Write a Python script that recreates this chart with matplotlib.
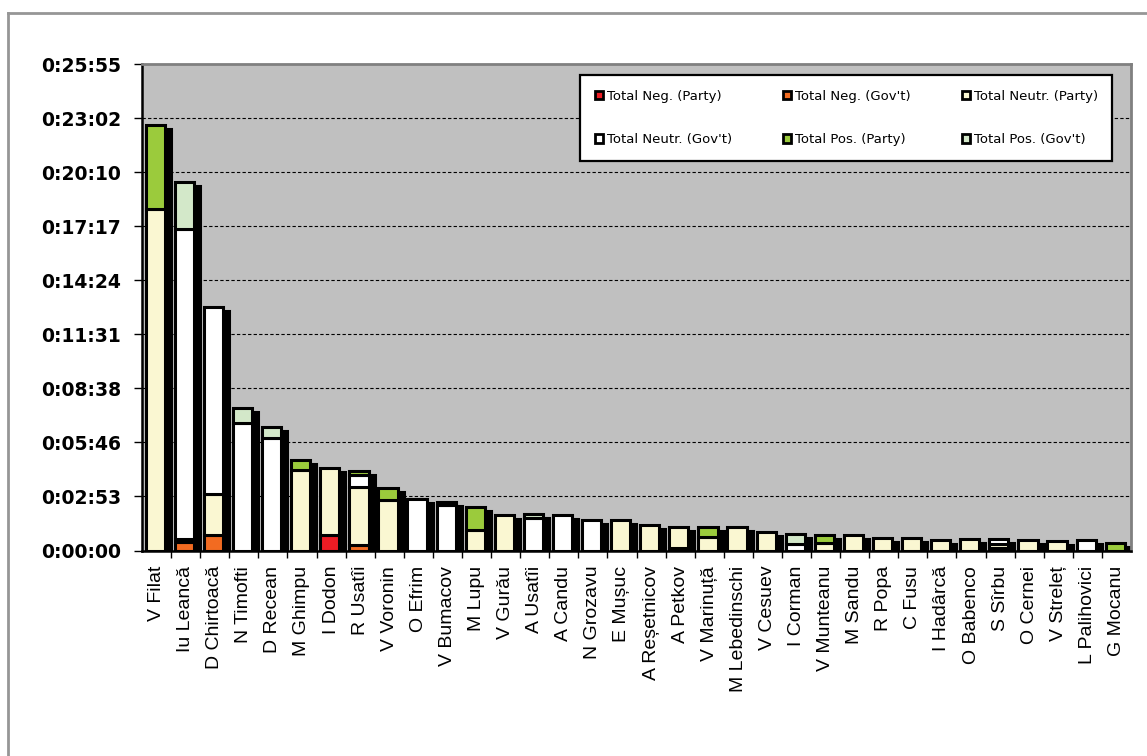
import numpy as np
import matplotlib
matplotlib.use('Agg')
from matplotlib import pyplot as plt
from matplotlib.patches import Patch
from matplotlib.lines import Line2D

# names along the x axis
names = ['V Filat', 'Iu Leancă', 'D Chirtoacă', 'N Timofti', 'D Recean', 'M Ghimpu',
         'I Dodon', 'R Usatîi', 'V Voronin', 'O Efrim', 'V Bumacov', 'M Lupu',
         'V Gurău', 'A Usatîi', 'A Candu', 'N Grozavu', 'E Mușuc', 'A Reșetnicov',
         'A Petkov', 'V Marinuță', 'M Lebedinschi', 'V Cesuev', 'I Corman',
         'V Munteanu', 'M Sandu', 'R Popa', 'C Fusu', 'I Hadârcă', 'O Babenco',
         'S Sîrbu', 'O Cernei', 'V Streleț', 'L Palihovici', 'G Mocanu']

# seconds of coverage per category
neg_party  = [0, 0, 0, 0, 0, 0, 50, 0, 0, 0, 0, 0, 0, 0, 0, 0, 0, 0,
              8, 0, 0, 0, 0, 0, 0, 0, 0, 0, 0, 0, 0, 0, 0, 0]
neg_govt   = [0, 28, 50, 0, 0, 0, 0, 16, 0, 0, 0, 0, 0, 0, 0, 0, 0, 0,
              0, 0, 0, 0, 0, 0, 0, 0, 0, 0, 0, 8, 0, 0, 0, 0]
neutr_party = [1091, 10, 132, 0, 0, 258, 215, 188, 161, 0, 0, 66, 115, 0, 0, 0, 96, 80,
               68, 44, 76, 60, 0, 23, 48, 41, 41, 32, 38, 13, 33, 30, 0, 0]
neutr_govt = [0, 989, 595, 408, 359, 0, 0, 38, 0, 165, 144, 0, 0, 105, 113, 99, 0, 0,
              0, 0, 0, 0, 21, 0, 0, 0, 0, 0, 0, 16, 0, 0, 33, 0]
pos_party  = [269, 0, 0, 0, 0, 31, 0, 11, 38, 0, 0, 73, 0, 0, 0, 0, 0, 0,
              0, 32, 0, 0, 0, 28, 0, 0, 0, 0, 0, 0, 0, 0, 0, 24]
pos_govt   = [0, 152, 0, 49, 37, 0, 0, 0, 0, 0, 12, 0, 0, 11, 0, 0, 0, 0,
              0, 0, 0, 0, 33, 0, 0, 0, 0, 0, 0, 0, 0, 0, 0, 0]

series = [neg_party, neg_govt, neutr_party, neutr_govt, pos_party, pos_govt]
labels = ['Total Neg. (Party)', "Total Neg. (Gov't)", 'Total Neutr. (Party)',
          "Total Neutr. (Gov't)", 'Total Pos. (Party)', "Total Pos. (Gov't)"]
colors = ['#ED1C24', '#F26B21', '#FAF7D2', '#FFFFFF', '#9BCB3C', '#D3E8C9']

ymax = 1555
yticklabels = ['0:00:00', '0:02:53', '0:05:46', '0:08:38', '0:11:31',
               '0:14:24', '0:17:17', '0:20:10', '0:23:02', '0:25:55']

fig = plt.figure(figsize=(11.47, 7.56), dpi=100)
ax = fig.add_axes([142/1147, 205.5/756, 989/1147, 486.5/756])
ax.set_facecolor('#C0C0C0')

x = np.arange(len(names))
w = 0.66
xc = x - 0.043
lw = 2.2

data = np.array(series, dtype=float)
totals = data.sum(axis=0)

# drop shadows
ax.bar(xc + 0.206, np.maximum(totals - 12.8, 0), w, color='black',
       edgecolor='black', linewidth=lw, zorder=2)

bottom = np.zeros(len(names))
for vals, col in zip(data, colors):
    m = vals > 0
    ax.bar(xc[m], vals[m], w, bottom=bottom[m], color=col,
           edgecolor='black', linewidth=lw, zorder=3)
    bottom += vals

ax.set_xlim(-0.5, len(names) - 0.5)
ax.set_ylim(0, ymax)

yt = np.arange(10) * ymax / 9
ax.set_yticks(yt)
ax.set_yticklabels(yticklabels, fontsize=13.5, fontweight='bold', family='DejaVu Sans')
ax.tick_params(axis='y', direction='out', length=6, width=1, pad=9)
for v in yt[1:-1]:
    ax.axhline(v, color='black', lw=0.8, ls=(0, (3, 2)), zorder=1)

ax.set_xticks(x)
ax.set_xticklabels(names, rotation=90, fontsize=14, family='Liberation Sans')
ax.set_xticks(x[:-1] + 0.5, minor=True)
ax.tick_params(axis='x', which='major', length=0, pad=11)
ax.tick_params(axis='x', which='minor', direction='out', length=5, width=1)

for s in ['left', 'bottom']:
    ax.spines[s].set_color('black')
    ax.spines[s].set_linewidth(1.8)
for s in ['top', 'right']:
    ax.spines[s].set_color('#808080')
    ax.spines[s].set_linewidth(2)

handles = [Patch(facecolor=c, edgecolor='black', linewidth=2) for c in colors]
order = [0, 3, 1, 4, 2, 5]
leg = ax.legend([handles[i] for i in order], [labels[i] for i in order],
                ncol=3, loc='upper left', bbox_to_anchor=(0.443, 0.977, 0.538, 0.0),
                mode='expand', fontsize=9.5, frameon=True, fancybox=False,
                framealpha=1, facecolor='white',
                handlelength=0.6, handleheight=0.6, handletextpad=0.3,
                labelspacing=2.3, borderpad=1.1, borderaxespad=0)
leg.get_frame().set_edgecolor('black')
leg.get_frame().set_linewidth(1.6)
leg.set_zorder(5)

# outer chart frame
fig.add_artist(Line2D([8/1147, 8/1147], [0, 1 - 13/756], color='#969696', lw=2))
fig.add_artist(Line2D([8/1147, 1], [1 - 13/756, 1 - 13/756], color='#969696', lw=2))

fig.savefig('out.png', dpi=100)
